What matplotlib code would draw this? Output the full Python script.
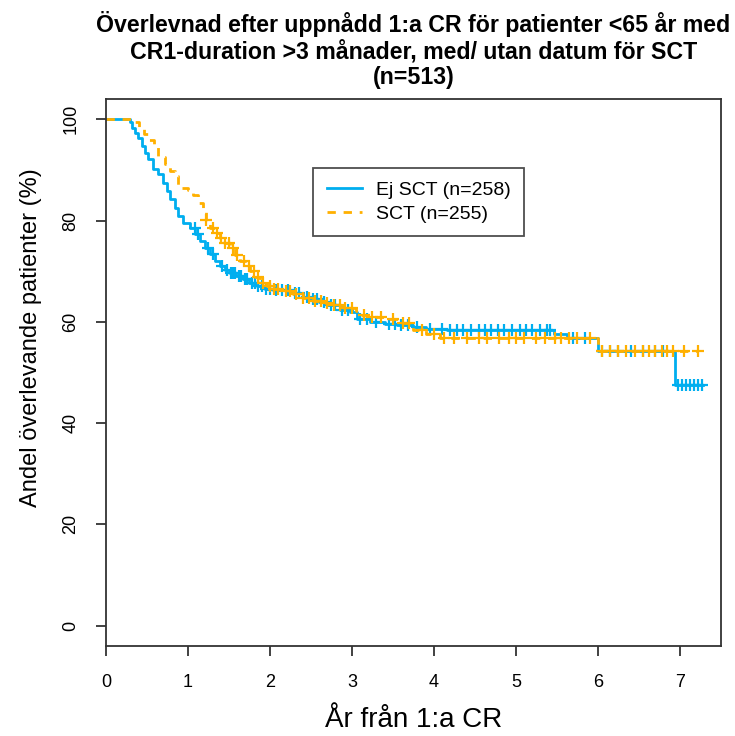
import matplotlib
matplotlib.use("Agg")
import matplotlib.pyplot as plt
import numpy as np

plt.rcParams['font.family'] = ['Liberation Sans', 'DejaVu Sans']

# Kaplan-Meier steps (years, % surviving)
ej_sct_t = [0, 0.27, 0.29, 0.32, 0.35, 0.39, 0.44, 0.48, 0.51, 0.57, 0.63, 0.70, 0.74,
            0.78, 0.84, 0.88, 0.94, 1.02, 1.09, 1.15, 1.21, 1.27, 1.33, 1.39, 1.45, 1.51,
            1.59, 1.67, 1.75, 1.84, 1.94, 2.04, 2.28, 2.40, 2.49, 2.60, 2.70, 2.85, 2.98,
            3.06, 3.22, 3.40, 3.55, 3.74, 3.91, 4.16, 5.47, 5.62, 6.00, 6.94, 7.28]
ej_sct_s = [100, 100, 99.4, 98.2, 97.2, 96.2, 94.8, 93.4, 92.2, 90.2, 89.2, 87.5, 85.9,
            84.3, 82.5, 80.9, 79.5, 78.5, 77.4, 76.0, 74.5, 73.4, 72.0, 71.0, 70.2, 69.7,
            69.0, 68.5, 67.6, 67.1, 66.5, 66.2, 65.7, 65.0, 64.6, 64.0, 63.4, 62.4, 62.0,
            60.6, 60.0, 59.6, 59.4, 59.0, 58.6, 58.4, 57.6, 56.9, 54.3, 47.6, 47.6]

sct_t = [0, 0.30, 0.40, 0.46, 0.52, 0.58, 0.64, 0.72, 0.78, 0.84, 0.88, 1.00, 1.06,
         1.12, 1.18, 1.22, 1.27, 1.33, 1.39, 1.45, 1.51, 1.57, 1.63, 1.70, 1.76, 1.82,
         1.88, 1.96, 2.04, 2.16, 2.28, 2.40, 2.52, 2.64, 2.77, 2.90, 3.05, 3.10, 3.25,
         3.40, 3.59, 3.74, 3.91, 4.07, 6.00, 7.22]
sct_s = [100, 99.4, 98.5, 97.0, 96.0, 94.5, 92.5, 91.2, 89.7, 88.7, 86.5, 86.0, 85.0,
         83.5, 81.9, 80.2, 78.5, 77.5, 76.5, 75.5, 74.5, 73.2, 72.0, 71.0, 70.0, 68.8,
         67.7, 67.0, 66.5, 66.0, 65.5, 64.8, 64.2, 63.8, 63.4, 62.8, 62.2, 61.4, 60.9,
         60.5, 59.8, 58.4, 57.6, 56.8, 54.3, 54.3]

# censoring times
ej_sct_cens = [1.08, 1.12, 1.25, 1.30, 1.42, 1.48, 1.52, 1.55, 1.58, 1.62, 1.65, 1.70,
               1.72, 1.78, 1.82, 1.86, 1.90, 1.95, 2.00, 2.08, 2.15, 2.22, 2.30, 2.36,
               2.45, 2.52, 2.58, 2.66, 2.75, 2.80, 2.88, 2.95, 3.10, 3.18, 3.30, 3.45,
               3.52, 3.60, 3.68, 3.80, 3.95, 4.10, 4.20, 4.28, 4.35, 4.45, 4.55, 4.62,
               4.70, 4.78, 4.85, 4.95, 5.05, 5.12, 5.20, 5.30, 5.38, 5.42, 5.70, 5.85,
               6.05, 6.15, 6.25, 6.40, 6.55, 6.70, 6.80, 6.98, 7.03, 7.08, 7.12, 7.17,
               7.22, 7.27]
sct_cens = [1.22, 1.30, 1.35, 1.40, 1.45, 1.50, 1.55, 1.60, 1.68, 1.75, 1.80, 1.85,
            1.92, 2.00, 2.05, 2.10, 2.20, 2.25, 2.32, 2.40, 2.48, 2.55, 2.62, 2.70,
            2.78, 2.85, 2.92, 3.00, 3.15, 3.25, 3.35, 3.50, 3.62, 3.70, 3.85, 4.00,
            4.12, 4.25, 4.40, 4.55, 4.65, 4.80, 4.92, 5.00, 5.10, 5.25, 5.35, 5.48,
            5.55, 5.65, 5.75, 5.90, 6.05, 6.15, 6.25, 6.35, 6.45, 6.55, 6.62, 6.70,
            6.78, 6.85, 6.92, 7.05, 7.22]

labels = ['Ej SCT (n=258)', 'SCT (n=255)']
blue = '#00AEEF'
orange = '#FFB000'


def step_value(ts, ss, x):
    idx = np.searchsorted(ts, x, side='right') - 1
    return np.asarray(ss)[idx]


fig = plt.figure(figsize=(7.35, 7.36), dpi=100)
ax = fig.add_axes([0.1442, 0.1223, 0.8364, 0.7432])

ax.step(ej_sct_t, ej_sct_s, where='post', color=blue, lw=2, label=labels[0])
ax.plot(ej_sct_cens, step_value(ej_sct_t, ej_sct_s, ej_sct_cens), ls='none',
        marker='+', ms=9, mew=1.6, color=blue)
ax.step(sct_t, sct_s, where='post', color=orange, lw=2, dashes=(3, 2.8), label=labels[1])
ax.plot(sct_cens, step_value(sct_t, sct_s, sct_cens), ls='none',
        marker='+', ms=9, mew=1.6, color=orange)

ax.set_xlim(0, 7.5)
ax.set_ylim(-4, 104)
ax.set_xticks(range(0, 8))
ax.set_yticks(range(0, 101, 20))
ax.tick_params(axis='both', length=7, width=1.3, color='#333333', labelsize=13)
ax.tick_params(axis='x', pad=13)
ax.tick_params(axis='y', pad=12)
for lab in ax.get_yticklabels():
    lab.set_rotation(90)
    lab.set_va('center')
for sp in ax.spines.values():
    sp.set_linewidth(1.3)
    sp.set_color('#333333')

ax.set_xlabel('År från 1:a CR', fontsize=20, labelpad=12)
ax.set_ylabel('Andel överlevande patienter (%)', fontsize=17)
ax.yaxis.set_label_coords(-0.104, 0.563)
ax.set_title('Överlevnad efter uppnådd 1:a CR för patienter <65 år med\n'
             'CR1-duration >3 månader, med/ utan datum för SCT\n(n=513)',
             fontsize=16.7, fontweight='bold', linespacing=1.15, pad=11)

leg = ax.legend(loc='upper left', bbox_to_anchor=(0.3373, 0.874), fontsize=14,
                frameon=True, fancybox=False, edgecolor='#222222', handlelength=1.8,
                borderpad=0.7, labelspacing=0.3, handletextpad=0.7, borderaxespad=0)
leg.get_frame().set_linewidth(1.3)

fig.savefig('out.png', dpi=100, facecolor='white')
